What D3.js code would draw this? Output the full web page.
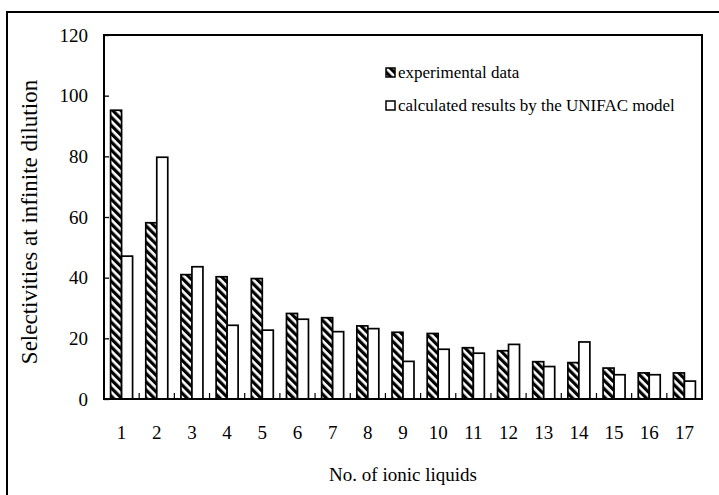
<!DOCTYPE html>
<html>
<head>
<meta charset="utf-8">
<script src="https://cdn.jsdelivr.net/npm/d3@7"></script>
<style>
  html, body { margin: 0; padding: 0; background: #fff; }
  svg { display: block; }
  svg text { font-family: "Liberation Serif", "Times New Roman", serif; }
</style>
</head>
<body>
<svg id="chart" width="719" height="495"></svg>
<script>
// Ionic liquid numbers on the x axis
const categories = ["1","2","3","4","5","6","7","8","9","10","11","12","13","14","15","16","17"];
// Selectivities at infinite dilution
const experimental = [95.2, 58.1, 41.0, 40.3, 39.7, 28.2, 26.8, 24.1, 22.0, 21.6, 16.9, 15.9, 12.3, 12.0, 10.2, 8.6, 8.6];
const unifac = [47.1, 79.7, 43.6, 24.3, 22.7, 26.3, 22.2, 23.2, 12.4, 16.4, 15.1, 18.0, 10.7, 18.8, 8.0, 8.0, 5.9];
const seriesNames = ["experimental data", "calculated results by the UNIFAC model"];
const yTicks = [0, 20, 40, 60, 80, 100, 120];

const SERIF = "Liberation Serif, Times New Roman, serif";
const svg = d3.select("#chart");
const plot = { left: 104, right: 702, top: 35, bottom: 399 };

// Hatch pattern for the experimental series
const defs = svg.append("defs");
const pat = defs.append("pattern")
  .attr("id", "hatch")
  .attr("patternUnits", "userSpaceOnUse")
  .attr("width", 5.8).attr("height", 5.8)
  .attr("patternTransform", "rotate(-45)");
pat.append("rect").attr("width", 5.8).attr("height", 5.8).attr("fill", "#fff");
pat.append("rect").attr("width", 3.2).attr("height", 5.8).attr("fill", "#000");

// Outer frame
svg.append("rect")
  .attr("x", 7).attr("y", 12).attr("width", 760).attr("height", 540)
  .attr("fill", "none").attr("stroke", "#000").attr("stroke-width", 2);

const x = d3.scaleBand().domain(categories).range([plot.left, plot.right]).padding(0);
const xSub = d3.scaleBand().domain(["exp", "calc"]).range([0, x.bandwidth()]).paddingInner(0).paddingOuter(0.6);
const y = d3.scaleLinear().domain([0, 120]).range([plot.bottom, plot.top]);

// Bars
const rows = categories.map((c, i) => ({ c, exp: experimental[i], calc: unifac[i] }));
const g = svg.append("g");
rows.forEach(r => {
  g.append("rect")
    .attr("x", x(r.c) + xSub("exp"))
    .attr("y", y(r.exp))
    .attr("width", xSub.bandwidth())
    .attr("height", y(0) - y(r.exp))
    .attr("fill", "url(#hatch)")
    .attr("stroke", "#000").attr("stroke-width", 1.7);
  g.append("rect")
    .attr("x", x(r.c) + xSub("calc"))
    .attr("y", y(r.calc))
    .attr("width", xSub.bandwidth())
    .attr("height", y(0) - y(r.calc))
    .attr("fill", "#fff")
    .attr("stroke", "#000").attr("stroke-width", 1.7);
});

// Plot box
svg.append("rect")
  .attr("x", plot.left).attr("y", plot.top)
  .attr("width", plot.right - plot.left).attr("height", plot.bottom - plot.top)
  .attr("fill", "none").attr("stroke", "#000").attr("stroke-width", 2);

// Y axis: inward ticks, labels on the left
const yAxis = d3.axisLeft(y).tickValues(yTicks).tickSize(-5).tickPadding(16).tickFormat(d3.format("d"));
const ya = svg.append("g").attr("transform", `translate(${plot.left},0)`).call(yAxis)
  .attr("font-family", SERIF);
ya.select(".domain").remove();
ya.selectAll("line").attr("stroke", "#000").attr("stroke-width", 1.3);
ya.selectAll("text").attr("font-size", 19).attr("fill", "#000").attr("font-family", SERIF);

// X axis: group-boundary ticks pointing up, labels centered under groups
const xa = svg.append("g").attr("transform", `translate(0,${plot.bottom})`)
  .call(d3.axisBottom(x).tickSize(0).tickPadding(27))
  .attr("font-family", SERIF);
xa.select(".domain").remove();
xa.selectAll("text").attr("font-size", 19).attr("fill", "#000").attr("font-family", SERIF);
svg.append("g").selectAll("line")
  .data(categories.slice(1))
  .join("line")
  .attr("x1", d => x(d)).attr("x2", d => x(d))
  .attr("y1", plot.bottom).attr("y2", plot.bottom - 6)
  .attr("stroke", "#000").attr("stroke-width", 1.2);

// Axis titles
svg.append("text")
  .attr("x", (plot.left + plot.right) / 2).attr("y", 481)
  .attr("text-anchor", "middle").attr("font-size", 19).attr("font-family", SERIF)
  .text("No. of ionic liquids");
svg.append("text")
  .attr("transform", "translate(37,222) rotate(-90)")
  .attr("text-anchor", "middle").attr("font-size", 23).attr("font-family", SERIF)
  .text("Selectivities at infinite dilution");

// Legend
const legend = svg.append("g");
const legendFills = ["url(#hatch)", "#fff"];
seriesNames.forEach((name, i) => {
  const ly = 68 + i * 33;
  legend.append("rect")
    .attr("x", 386).attr("y", ly).attr("width", 9).attr("height", 9)
    .attr("fill", legendFills[i]).attr("stroke", "#000").attr("stroke-width", 1.5);
  legend.append("text")
    .attr("x", 398).attr("y", ly + 10)
    .attr("font-size", 17).attr("font-family", SERIF)
    .text(name);
});
</script>
</body>
</html>
